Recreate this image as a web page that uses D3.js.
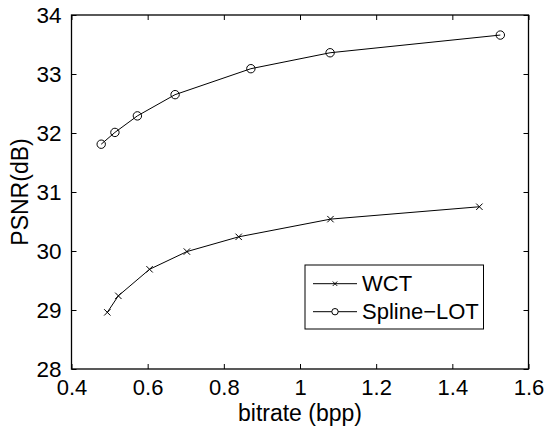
<!DOCTYPE html>
<html>
<head>
<meta charset="utf-8">
<script src="https://cdn.jsdelivr.net/npm/d3@7"></script>
<style>
  body { margin: 0; background: #fff; }
  text { font-family: "Liberation Sans", Arial, Helvetica, sans-serif; fill: #000; }
</style>
</head>
<body>
<div id="chart"></div>
<script>
// PSNR vs bitrate, two codecs
const wctBitrate = [0.494, 0.523, 0.605, 0.703, 0.839, 1.080, 1.471];
const wctPsnr = [28.96, 29.24, 29.69, 29.99, 30.24, 30.54, 30.75];
const lotBitrate = [0.478, 0.514, 0.573, 0.672, 0.871, 1.079, 1.526];
const lotPsnr = [31.81, 32.01, 32.29, 32.65, 33.09, 33.36, 33.66];
const xTicks = [0.4, 0.6, 0.8, 1, 1.2, 1.4, 1.6];
const yTicks = [28, 29, 30, 31, 32, 33, 34];
const seriesNames = ['WCT', 'Spline\u2212LOT'];

const W = 547, H = 431;
const margin = { top: 15, right: 18.5, bottom: 62, left: 71.5 };
const width = W - margin.left - margin.right;
const height = H - margin.top - margin.bottom;

const svg = d3.select('#chart').append('svg')
    .attr('width', W)
    .attr('height', H);

const g = svg.append('g')
    .attr('transform', `translate(${margin.left},${margin.top})`);

const x = d3.scaleLinear().domain([0.4, 1.6]).range([0, width]);
const y = d3.scaleLinear().domain([28, 34]).range([height, 0]);

// ticks on all four sides, pointing inward
const tickLen = 5;
g.append('g')
    .attr('transform', `translate(0,${height})`)
    .call(d3.axisBottom(x).tickValues(xTicks).tickSize(-tickLen).tickPadding(10)
        .tickFormat(d => String(+d.toFixed(1))))
    .call(a => a.select('.domain').remove())
    .selectAll('text').style('font-size', '22px');
g.append('g')
    .call(d3.axisTop(x).tickValues(xTicks).tickSize(-tickLen).tickFormat(''))
    .call(a => a.select('.domain').remove());
g.append('g')
    .call(d3.axisLeft(y).tickValues(yTicks).tickSize(-tickLen).tickPadding(10)
        .tickFormat(d => String(d)))
    .call(a => a.select('.domain').remove())
    .selectAll('text').style('font-size', '22.5px');
g.append('g')
    .attr('transform', `translate(${width},0)`)
    .call(d3.axisRight(y).tickValues(yTicks).tickSize(-tickLen).tickFormat(''))
    .call(a => a.select('.domain').remove());

g.selectAll('.tick line').attr('stroke', '#000').attr('stroke-width', 1);

// box
g.append('rect')
    .attr('width', width)
    .attr('height', height)
    .attr('fill', 'none')
    .attr('stroke', '#000')
    .attr('stroke-width', 1.3);

const line = d3.line().x(d => x(d[0])).y(d => y(d[1]));
const wct = wctBitrate.map((b, i) => [b, wctPsnr[i]]);
const lot = lotBitrate.map((b, i) => [b, lotPsnr[i]]);

g.append('path').datum(wct).attr('d', line)
    .attr('fill', 'none').attr('stroke', '#000').attr('stroke-width', 1);
g.append('path').datum(lot).attr('d', line)
    .attr('fill', 'none').attr('stroke', '#000').attr('stroke-width', 1);

function cross(sel, s) {
    sel.append('path')
        .attr('d', `M${-s},${-s}L${s},${s}M${-s},${s}L${s},${-s}`)
        .attr('stroke', '#000').attr('stroke-width', 1).attr('fill', 'none');
}

g.selectAll('.wct-mark').data(wct).enter().append('g')
    .attr('transform', d => `translate(${x(d[0])},${y(d[1])})`)
    .call(cross, 3.2);

g.selectAll('.lot-mark').data(lot).enter().append('circle')
    .attr('cx', d => x(d[0]))
    .attr('cy', d => y(d[1]))
    .attr('r', 4.2)
    .attr('fill', 'none')
    .attr('stroke', '#000')
    .attr('stroke-width', 1);

// axis labels
svg.append('text')
    .attr('x', margin.left + width / 2)
    .attr('y', 421)
    .attr('text-anchor', 'middle')
    .style('font-size', '23px')
    .text('bitrate (bpp)');

svg.append('text')
    .attr('transform', `translate(28,${margin.top + height / 2}) rotate(-90)`)
    .attr('text-anchor', 'middle')
    .style('font-size', '23px')
    .text('PSNR(dB)');

// legend
const leg = svg.append('g').attr('transform', 'translate(305,265)');
leg.append('rect')
    .attr('width', 178.5)
    .attr('height', 64)
    .attr('fill', '#fff')
    .attr('stroke', '#000')
    .attr('stroke-width', 1);

const rows = [18.7, 46.7];
seriesNames.forEach((name, i) => {
    const r = leg.append('g').attr('transform', `translate(0,${rows[i]})`);
    r.append('line').attr('x1', 8).attr('x2', 52).attr('y1', 0).attr('y2', 0)
        .attr('stroke', '#000').attr('stroke-width', 1);
    if (i === 0) {
        r.append('g').attr('transform', 'translate(30,0)').call(cross, 2.2);
    } else {
        r.append('circle').attr('cx', 30).attr('cy', 0).attr('r', 3.2)
            .attr('fill', '#fff').attr('stroke', '#000').attr('stroke-width', 1);
    }
    r.append('text')
        .attr('x', 57)
        .attr('y', 7.5)
        .style('font-size', '22px')
        .text(name);
});
</script>
</body>
</html>
